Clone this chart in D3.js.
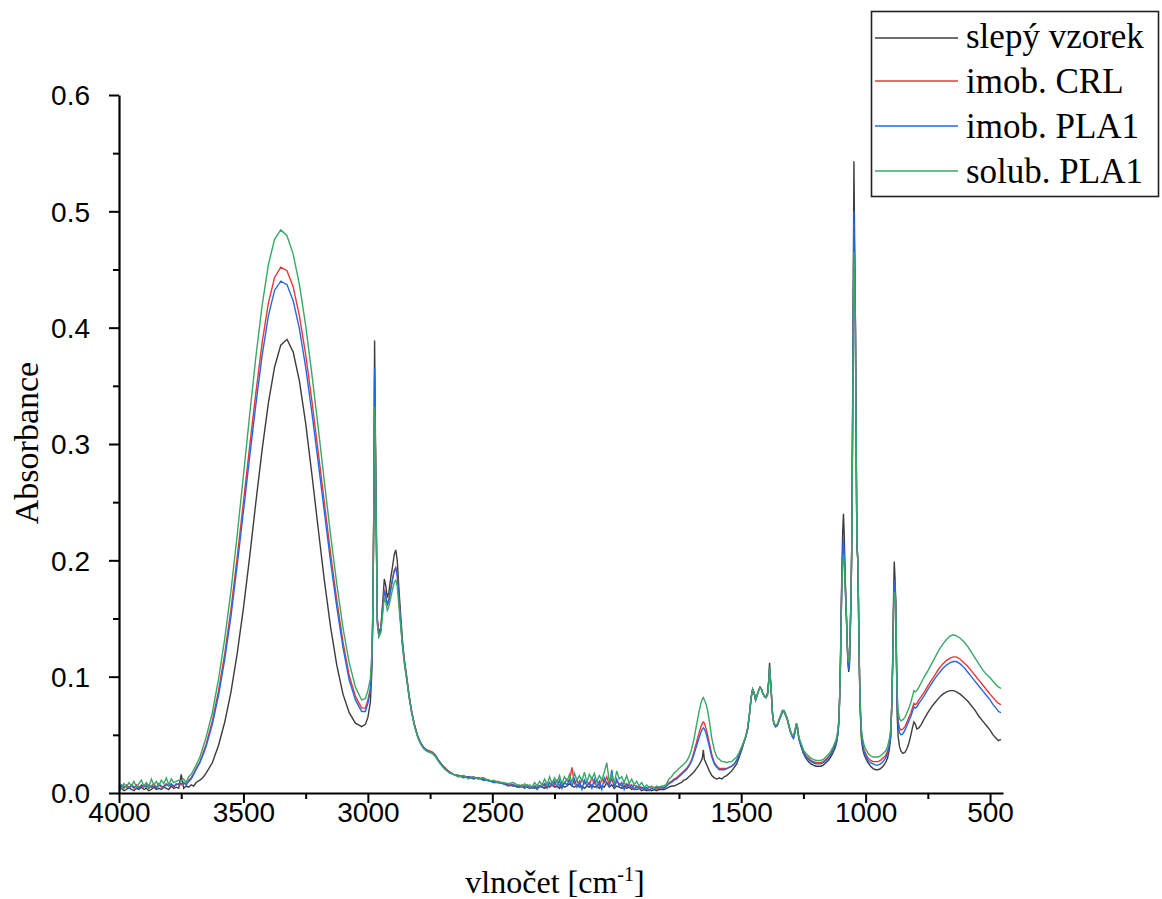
<!DOCTYPE html>
<html>
<head>
<meta charset="utf-8">
<script src="https://cdn.jsdelivr.net/npm/d3@7"></script>
<style>
  html, body { margin: 0; padding: 0; background: #ffffff; }
  svg { display: block; }
</style>
</head>
<body>
<svg id="chart" width="1162" height="899"></svg>
<script>
// ---------------- DATA ----------------
const wavenumbers = [
  4000,3990,3980,3970,3960,3950,3940,3930,3920,3910,3900,3890,3880,3870,3860,3850,3840,3830,3820,3810,3800,3790,3780,3770,3760,
  3750,3740,3730,3720,3710,3700,3690,3675,3660,3650,3625,3600,3575,3550,3525,3500,3475,3450,3425,3400,3375,3350,3325,3300,3275,3250,3225,3200,3175,3150,3125,3100,3075,3050,3025,3010,3000,
  2990,2984,2980,2976,2973,2970,2966,2962,2956,2948,2940,2934,2928,2922,2916,2908,2900,2894,2888,2882,2876,2868,2860,2852,2844,2834,2824,2812,2800,2788,2776,2764,2752,2740,2728,2716,2702,2688,2672,2656,2636,2616,2596,2576,2556,2536,2516,2496,2476,2456,2436,2416,2400,
  2390,2380,2370,2360,2350,2340,2330,2320,2310,2300,2290,2280,2270,2260,2250,2240,2230,2220,2210,2200,2190,2180,2170,2160,2150,2140,2130,2120,2110,2100,2090,2080,2070,2060,2050,2040,2030,2020,2010,2000,1990,1980,1970,1960,1950,1940,1930,1920,1910,1900,1890,1880,1870,1860,1850,1840,1830,1820,1810,1800,
  1790,1780,1770,1760,1750,1740,1730,1720,1710,1700,
  1690,1680,1670,1662,1656,1652,1648,1642,1636,1628,
  1618,1608,1598,1588,1578,1568,1558,1548,1538,1528,
  1518,1508,1498,1490,1482,1474,1466,1460,1454,1448,
  1442,1436,1430,1424,1418,1412,1406,1400,1394,1389,
  1386,1383,1379,1374,1369,1362,1355,1348,1341,1334,
  1328,1322,1316,1310,1303,1296,1290,1284,1278,1274,
  1270,1265,1258,1250,1240,1230,1220,1210,1200,1190,
  1180,1170,1160,1150,1140,1130,1122,1116,1111,1107,
  1104,1101,1098,1095,1092,1089,1086,1083,1080,1077,
  1074,1071,1068,1065,1062,1059,1056,1053,1050,1047,
  1044,1041,1038,1035,1032,1029,1026,1022,1017,1012,
  1006,998,990,980,970,960,950,940,930,920,
  912,905,899,895,891,888,885,882,879,876,
  873,869,864,858,850,842,834,826,818,812,
  806,800,794,786,776,764,750,735,720,705,
  690,675,660,647,635,620,605,590,575,560,
  545,530,515,500,488,476,466,456
];

// slepý vzorek
const blankSample = [
  0.003,0.004,0.002,0.003,0.005,0.003,0.002,0.004,0.003,0.005,0.003,0.004,0.002,0.003,0.005,0.003,0.004,0.003,0.005,0.004,0.003,0.006,0.004,0.005,0.004,
  0.016,0.004,0.006,0.005,0.007,0.006,0.009,0.011,0.014,0.017,0.026,0.041,0.061,0.087,0.120,0.159,0.203,0.250,0.295,0.335,0.366,0.385,0.390,0.379,0.354,0.318,0.274,0.228,0.183,0.143,0.110,0.085,0.069,0.060,0.057,0.059,0.065,
  0.078,0.105,0.150,0.250,0.389,0.315,0.230,0.150,0.138,0.142,0.165,0.184,0.178,0.168,0.172,0.185,0.196,0.205,0.209,0.200,0.178,0.152,0.128,0.112,0.100,0.083,0.070,0.058,0.049,0.043,0.039,0.037,0.036,0.035,0.032,0.028,0.024,0.021,0.018,0.016,0.015,0.014,0.014,0.013,0.013,0.012,0.011,0.010,0.009,0.008,0.007,0.006,0.006,
  0.006,0.005,0.006,0.005,0.004,0.005,0.004,0.005,0.006,0.005,0.004,0.006,0.005,0.007,0.005,0.006,0.004,0.007,0.005,0.006,0.008,0.006,0.005,0.007,0.005,0.006,0.004,0.006,0.005,0.007,0.005,0.006,0.004,0.006,0.005,0.009,0.005,0.007,0.004,0.006,0.005,0.004,0.006,0.004,0.005,0.003,0.004,0.003,0.004,0.002,0.003,0.002,0.003,0.002,0.003,0.002,0.003,0.003,0.003,0.004,
  0.005,0.006,0.006,0.007,0.008,0.009,0.011,0.012,0.014,0.016,
  0.018,0.021,0.024,0.027,0.030,0.037,0.029,0.026,0.023,0.019,
  0.015,0.013,0.012,0.013,0.012,0.014,0.015,0.017,0.019,0.022,
  0.025,0.031,0.037,0.043,0.048,0.055,0.069,0.082,0.089,0.086,
  0.080,0.084,0.088,0.091,0.089,0.085,0.083,0.083,0.086,0.098,
  0.112,0.100,0.087,0.068,0.060,0.057,0.058,0.062,0.066,0.070,
  0.070,0.067,0.064,0.059,0.053,0.049,0.047,0.052,0.059,0.056,
  0.049,0.044,0.039,0.034,0.030,0.027,0.025,0.024,0.023,0.023,
  0.023,0.024,0.026,0.028,0.031,0.035,0.039,0.044,0.051,0.062,
  0.085,0.115,0.160,0.195,0.225,0.240,0.222,0.195,0.172,0.152,
  0.128,0.112,0.104,0.110,0.135,0.165,0.210,0.300,0.420,0.543,
  0.470,0.405,0.300,0.212,0.202,0.165,0.115,0.072,0.047,0.038,
  0.033,0.029,0.026,0.023,0.021,0.020,0.020,0.021,0.023,0.026,
  0.030,0.037,0.048,0.075,0.120,0.165,0.199,0.185,0.165,0.110,
  0.065,0.048,0.040,0.036,0.034,0.035,0.038,0.043,0.050,0.056,
  0.061,0.059,0.055,0.056,0.059,0.064,0.069,0.074,0.078,0.082,
  0.085,0.087,0.088,0.088,0.087,0.085,0.082,0.079,0.075,0.071,
  0.066,0.062,0.058,0.054,0.050,0.047,0.045,0.046
];

// imob. CRL
const imobCRL = [
  0.005,0.006,0.004,0.007,0.005,0.006,0.004,0.007,0.005,0.006,0.005,0.007,0.004,0.006,0.008,0.005,0.007,0.005,0.006,0.008,0.006,0.007,0.005,0.008,0.007,
  0.007,0.009,0.007,0.011,0.013,0.017,0.021,0.027,0.036,0.042,0.062,0.088,0.120,0.158,0.203,0.250,0.298,0.344,0.387,0.421,0.443,0.452,0.449,0.435,0.410,0.377,0.337,0.294,0.250,0.206,0.166,0.130,0.101,0.083,0.073,0.073,0.080,
  0.090,0.115,0.155,0.245,0.360,0.305,0.225,0.148,0.136,0.140,0.160,0.175,0.170,0.162,0.166,0.176,0.185,0.191,0.194,0.188,0.170,0.147,0.126,0.111,0.099,0.083,0.070,0.058,0.049,0.043,0.039,0.037,0.036,0.035,0.032,0.028,0.024,0.021,0.018,0.016,0.014,0.015,0.013,0.014,0.012,0.013,0.011,0.010,0.010,0.008,0.008,0.007,0.006,
  0.006,0.007,0.005,0.006,0.004,0.006,0.005,0.007,0.005,0.008,0.006,0.009,0.005,0.010,0.007,0.011,0.006,0.009,0.008,0.012,0.010,0.022,0.008,0.011,0.006,0.012,0.008,0.010,0.007,0.013,0.008,0.011,0.006,0.012,0.009,0.014,0.007,0.012,0.006,0.010,0.008,0.006,0.009,0.005,0.008,0.004,0.007,0.005,0.006,0.004,0.005,0.003,0.005,0.004,0.005,0.003,0.005,0.004,0.005,0.006,
  0.009,0.010,0.012,0.013,0.015,0.017,0.019,0.021,0.024,0.028,
  0.035,0.043,0.051,0.057,0.060,0.061,0.060,0.056,0.051,0.043,
  0.033,0.026,0.023,0.021,0.021,0.021,0.021,0.022,0.023,0.025,
  0.028,0.033,0.038,0.043,0.048,0.055,0.069,0.082,0.089,0.086,
  0.080,0.084,0.088,0.091,0.089,0.085,0.083,0.082,0.085,0.096,
  0.106,0.099,0.086,0.068,0.060,0.058,0.059,0.063,0.067,0.071,
  0.071,0.068,0.065,0.060,0.054,0.050,0.048,0.053,0.060,0.057,
  0.050,0.045,0.041,0.036,0.032,0.030,0.028,0.027,0.026,0.026,
  0.026,0.027,0.029,0.031,0.034,0.038,0.042,0.046,0.053,0.064,
  0.085,0.112,0.153,0.185,0.205,0.212,0.203,0.185,0.167,0.150,
  0.129,0.115,0.108,0.114,0.138,0.165,0.207,0.295,0.400,0.490,
  0.450,0.400,0.300,0.213,0.203,0.168,0.118,0.077,0.051,0.043,
  0.037,0.033,0.030,0.028,0.027,0.027,0.027,0.028,0.030,0.032,
  0.036,0.042,0.052,0.075,0.113,0.155,0.180,0.178,0.162,0.115,
  0.078,0.062,0.056,0.054,0.055,0.057,0.061,0.065,0.069,0.073,
  0.077,0.076,0.077,0.080,0.083,0.087,0.092,0.097,0.102,0.107,
  0.111,0.114,0.116,0.117,0.117,0.115,0.112,0.109,0.105,0.101,
  0.097,0.093,0.089,0.085,0.082,0.079,0.077,0.076
];

// imob. PLA1
const imobPLA1 = [
  0.004,0.007,0.005,0.006,0.004,0.007,0.005,0.006,0.004,0.007,0.006,0.005,0.007,0.005,0.006,0.004,0.008,0.006,0.005,0.007,0.006,0.008,0.006,0.007,0.008,
  0.008,0.009,0.007,0.010,0.012,0.016,0.020,0.026,0.034,0.040,0.059,0.084,0.115,0.152,0.196,0.242,0.289,0.334,0.376,0.410,0.432,0.440,0.437,0.423,0.399,0.366,0.327,0.285,0.242,0.199,0.160,0.125,0.097,0.080,0.070,0.070,0.077,
  0.088,0.113,0.155,0.250,0.365,0.300,0.222,0.147,0.135,0.139,0.159,0.174,0.169,0.161,0.165,0.175,0.185,0.191,0.193,0.187,0.170,0.146,0.125,0.110,0.098,0.082,0.069,0.057,0.049,0.043,0.039,0.037,0.035,0.034,0.032,0.028,0.024,0.020,0.018,0.016,0.015,0.013,0.014,0.012,0.013,0.011,0.011,0.009,0.009,0.008,0.006,0.007,0.005,
  0.005,0.006,0.004,0.007,0.005,0.004,0.006,0.003,0.006,0.005,0.008,0.004,0.009,0.006,0.010,0.005,0.011,0.004,0.009,0.007,0.011,0.006,0.012,0.005,0.010,0.003,0.011,0.006,0.009,0.004,0.012,0.005,0.010,0.003,0.013,0.008,0.006,0.020,0.004,0.012,0.006,0.009,0.003,0.008,0.005,0.007,0.003,0.006,0.004,0.005,0.003,0.005,0.002,0.004,0.003,0.005,0.004,0.005,0.004,0.006,
  0.008,0.009,0.011,0.012,0.014,0.016,0.018,0.020,0.023,0.027,
  0.033,0.040,0.047,0.052,0.055,0.056,0.055,0.052,0.047,0.040,
  0.031,0.025,0.022,0.020,0.020,0.020,0.021,0.022,0.023,0.025,
  0.028,0.033,0.038,0.043,0.048,0.055,0.069,0.082,0.089,0.086,
  0.080,0.084,0.088,0.091,0.089,0.085,0.083,0.082,0.085,0.097,
  0.108,0.099,0.086,0.068,0.060,0.057,0.058,0.062,0.066,0.070,
  0.070,0.067,0.064,0.059,0.053,0.049,0.047,0.052,0.059,0.056,
  0.049,0.044,0.040,0.035,0.031,0.029,0.027,0.026,0.025,0.025,
  0.025,0.026,0.028,0.030,0.033,0.037,0.041,0.045,0.052,0.063,
  0.085,0.113,0.155,0.188,0.210,0.218,0.207,0.188,0.168,0.150,
  0.128,0.113,0.106,0.112,0.137,0.165,0.207,0.295,0.405,0.500,
  0.455,0.402,0.300,0.213,0.203,0.167,0.117,0.075,0.050,0.041,
  0.035,0.031,0.028,0.026,0.025,0.024,0.024,0.025,0.027,0.030,
  0.034,0.040,0.050,0.075,0.115,0.158,0.183,0.180,0.163,0.113,
  0.075,0.058,0.052,0.050,0.051,0.054,0.058,0.062,0.066,0.070,
  0.074,0.073,0.074,0.077,0.080,0.084,0.089,0.094,0.099,0.103,
  0.107,0.110,0.112,0.113,0.113,0.111,0.108,0.104,0.100,0.096,
  0.092,0.088,0.084,0.080,0.076,0.073,0.070,0.069
];

// solub. PLA1
const solubPLA1 = [
  0.006,0.004,0.008,0.005,0.009,0.006,0.010,0.005,0.008,0.011,0.006,0.009,0.005,0.012,0.007,0.010,0.006,0.011,0.008,0.013,0.007,0.012,0.009,0.010,0.011,
  0.010,0.012,0.009,0.014,0.016,0.020,0.024,0.031,0.041,0.048,0.069,0.098,0.133,0.174,0.222,0.273,0.325,0.375,0.419,0.454,0.476,0.484,0.479,0.463,0.437,0.402,0.360,0.315,0.268,0.222,0.180,0.142,0.112,0.091,0.080,0.081,0.088,
  0.098,0.120,0.160,0.240,0.332,0.300,0.220,0.145,0.134,0.138,0.155,0.168,0.164,0.157,0.160,0.168,0.176,0.181,0.183,0.178,0.163,0.143,0.124,0.109,0.098,0.082,0.069,0.057,0.048,0.042,0.038,0.036,0.035,0.034,0.031,0.027,0.023,0.020,0.017,0.016,0.014,0.015,0.012,0.014,0.012,0.013,0.010,0.011,0.009,0.009,0.008,0.009,0.007,
  0.007,0.005,0.008,0.006,0.007,0.005,0.009,0.006,0.010,0.007,0.012,0.007,0.014,0.008,0.013,0.009,0.015,0.008,0.014,0.010,0.016,0.009,0.017,0.011,0.015,0.010,0.018,0.009,0.016,0.012,0.017,0.010,0.015,0.011,0.018,0.026,0.010,0.016,0.008,0.019,0.012,0.014,0.009,0.015,0.008,0.012,0.007,0.010,0.006,0.009,0.005,0.007,0.005,0.006,0.004,0.006,0.005,0.006,0.006,0.008,
  0.012,0.014,0.017,0.019,0.021,0.023,0.025,0.027,0.031,0.037,
  0.046,0.058,0.069,0.077,0.081,0.082,0.080,0.077,0.072,0.062,
  0.047,0.037,0.031,0.029,0.027,0.027,0.026,0.027,0.027,0.029,
  0.031,0.035,0.040,0.044,0.049,0.056,0.070,0.082,0.089,0.086,
  0.080,0.084,0.088,0.091,0.089,0.085,0.083,0.082,0.084,0.095,
  0.108,0.098,0.086,0.068,0.060,0.058,0.059,0.063,0.067,0.071,
  0.071,0.068,0.065,0.060,0.054,0.050,0.049,0.054,0.060,0.057,
  0.050,0.046,0.042,0.037,0.034,0.032,0.030,0.029,0.028,0.028,
  0.028,0.029,0.031,0.033,0.036,0.040,0.044,0.048,0.055,0.065,
  0.085,0.110,0.150,0.180,0.198,0.205,0.196,0.180,0.165,0.150,
  0.130,0.118,0.112,0.118,0.140,0.165,0.205,0.290,0.380,0.465,
  0.440,0.395,0.300,0.215,0.205,0.170,0.120,0.080,0.055,0.047,
  0.041,0.037,0.034,0.032,0.031,0.031,0.031,0.032,0.034,0.036,
  0.040,0.046,0.055,0.075,0.110,0.150,0.172,0.172,0.160,0.120,
  0.085,0.070,0.064,0.062,0.063,0.065,0.069,0.073,0.078,0.083,
  0.088,0.087,0.088,0.091,0.095,0.100,0.105,0.111,0.117,0.123,
  0.128,0.132,0.135,0.136,0.135,0.133,0.130,0.126,0.121,0.116,
  0.111,0.106,0.102,0.099,0.096,0.093,0.091,0.090
];

const seriesNames = ["slepý vzorek", "imob. CRL", "imob. PLA1", "solub. PLA1"];
const xTickValues = [4000, 3500, 3000, 2500, 2000, 1500, 1000, 500];
const xMinorTicks = [3750, 3250, 2750, 2250, 1750, 1250, 750];
const yTickValues = [0.0, 0.1, 0.2, 0.3, 0.4, 0.5, 0.6];
const yMinorTicks = [0.05, 0.15, 0.25, 0.35, 0.45, 0.55];

// ---------------- DRAW ----------------
const seriesValues = [blankSample, imobCRL, imobPLA1, solubPLA1];
const seriesColors = ["#3c3c3c", "#ef3535", "#2468df", "#38a866"];

const svg = d3.select("#chart");
const x = d3.scaleLinear().domain([4000, 448]).range([119, 1003]);
const y = d3.scaleLinear().domain([0, 0.6]).range([793, 95]);

const line = d3.line()
  .defined(d => d[1] != null)
  .x(d => x(d[0]))
  .y(d => y(d[1]));

const plot = svg.append("g");
seriesValues.forEach((vals, k) => {
  const n = Math.min(vals.length, wavenumbers.length);
  const pts = [];
  for (let i = 0; i < n; i++) pts.push([wavenumbers[i], vals[i]]);
  plot.append("path")
    .attr("d", line(pts))
    .attr("fill", "none")
    .attr("stroke", seriesColors[k])
    .attr("stroke-width", 1.4)
    .attr("stroke-linejoin", "miter");
});

const tickFont = "'Liberation Sans', Arial, sans-serif";
const serif = "'Liberation Serif', 'Times New Roman', serif";

// X axis
const xAxis = svg.append("g").attr("transform", "translate(0,793)")
  .call(d3.axisBottom(x).tickValues(xTickValues).tickSize(10).tickSizeOuter(0)
    .tickPadding(0).tickFormat(d3.format("d")));
svg.append("g").attr("transform", "translate(0,793)")
  .call(d3.axisBottom(x).tickValues(xMinorTicks).tickSize(6).tickSizeOuter(0).tickFormat(""))
  .select(".domain").remove();

// Y axis
const yAxis = svg.append("g").attr("transform", "translate(119,0)")
  .call(d3.axisLeft(y).tickValues(yTickValues).tickSize(10).tickSizeOuter(0)
    .tickPadding(19).tickFormat(d3.format(".1f")));
svg.append("g").attr("transform", "translate(119,0)")
  .call(d3.axisLeft(y).tickValues(yMinorTicks).tickSize(6).tickSizeOuter(0).tickFormat(""))
  .select(".domain").remove();

svg.selectAll(".domain").attr("stroke", "#000").attr("stroke-width", 2.2);
svg.selectAll(".tick line").attr("stroke", "#000").attr("stroke-width", 2);
svg.selectAll(".tick text")
  .attr("font-family", tickFont)
  .attr("font-size", 28)
  .attr("fill", "#000");
xAxis.selectAll(".tick text").attr("y", 9).attr("dy", "0.71em");
yAxis.selectAll(".tick text").attr("dy", "0.35em");

// Axis titles
svg.append("text")
  .attr("transform", "translate(38,443) rotate(-90)")
  .attr("text-anchor", "middle")
  .attr("font-family", serif)
  .attr("font-size", 34)
  .attr("fill", "#000")
  .text("Absorbance");

const xt = svg.append("text")
  .attr("x", 555).attr("y", 893)
  .attr("text-anchor", "middle")
  .attr("font-family", serif)
  .attr("font-size", 32)
  .attr("fill", "#000");
xt.append("tspan").text("vlnočet [cm");
xt.append("tspan").attr("font-size", 20).attr("dy", -12).text("-1");
xt.append("tspan").attr("dy", 12).text("]");

// Legend
const lg = svg.append("g");
lg.append("rect")
  .attr("x", 871.5).attr("y", 11.5).attr("width", 287).attr("height", 185)
  .attr("fill", "#fff").attr("stroke", "#222").attr("stroke-width", 1.6);
const rowLine = [38, 81, 126, 171];
const rowBase = [48, 93, 138, 183];
seriesNames.forEach((name, k) => {
  lg.append("line")
    .attr("x1", 875).attr("x2", 958)
    .attr("y1", rowLine[k]).attr("y2", rowLine[k])
    .attr("stroke", seriesColors[k]).attr("stroke-width", 1.5);
  lg.append("text")
    .attr("x", 966).attr("y", rowBase[k])
    .attr("font-family", serif)
    .attr("font-size", 35)
    .attr("fill", "#000")
    .text(name);
});
</script>
</body>
</html>
